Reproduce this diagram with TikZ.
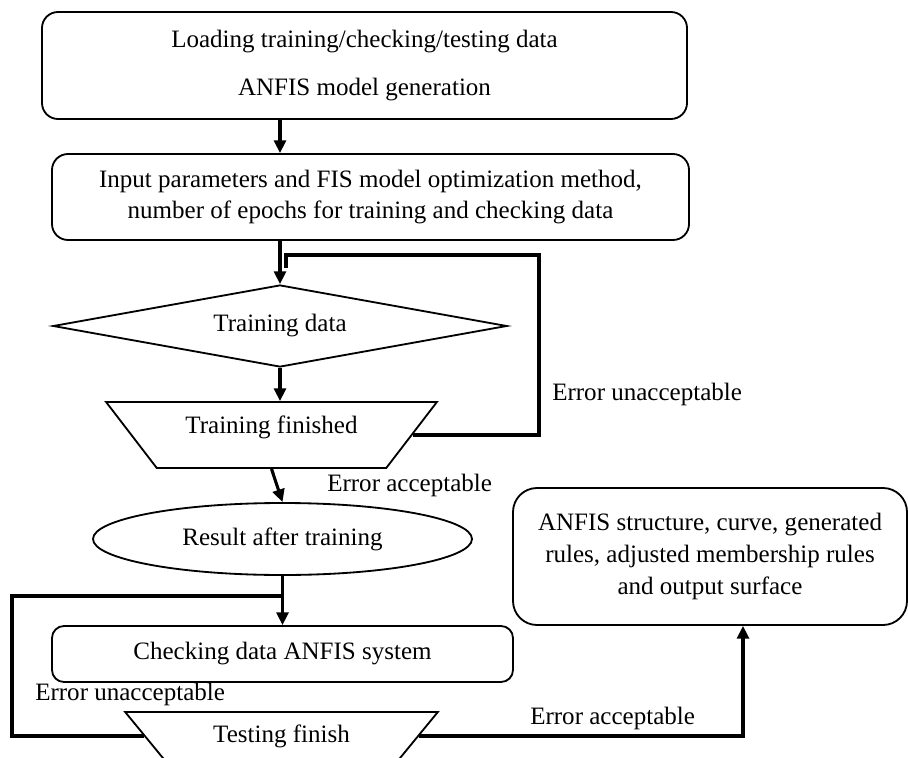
\documentclass[tikz,border=0pt]{standalone}
\usepackage{fontspec}
\setmainfont{Liberation Serif}
\usetikzlibrary{shapes.geometric, arrows.meta}

\begin{document}
\begin{tikzpicture}[
    font=\fontsize{17.8}{22.5}\selectfont,
    box/.style={draw, line width=1.3pt, rounded corners=0.4cm, align=center, inner sep=0pt},
    shp/.style={draw, line width=1.3pt, inner sep=0pt},
    trap/.style={shp, trapezium, trapezium angle=45, trapezium stretches, shape border rotate=180},
    flow/.style={line width=2.2pt},
    arr/.style={flow, -{Triangle[length=0.32cm, width=0.3cm]}},
    tag/.style={anchor=west, inner sep=0pt}
]
    \useasboundingbox (0, 0) rectangle (22.7, 18.925);
    % process boxes
    \node[box, minimum width=16.125cm, minimum height=2.675cm] (load) at (9.1125, 17.2875)
        {Loading training/checking/testing data\\[11pt] ANFIS model generation};
    \node[box, minimum width=15.925cm, minimum height=2.15cm] (input) at (9.2625, 14.0)
        {Input parameters and FIS model optimization method,\\ number of epochs for training and checking data};
    % training part
    \node[shp, diamond, aspect=5.54, minimum width=11.35cm, minimum height=2.05cm] (train) at (7.0, 10.775)
        {Training data};
    \node[trap, text depth=0.51cm, minimum width=8.275cm, minimum height=1.65cm] (trdone) at (6.7875, 8.05)
        {Training finished};
    \node[shp, ellipse, minimum width=9.475cm, minimum height=1.8cm] (result) at (7.0625, 5.45) {Result after training};
    % checking and testing part
    \node[box, rounded corners=0.3cm, minimum width=11.525cm, minimum height=1.4cm] (check) at (7.0625, 2.575)
        {Checking data ANFIS system};
    \node[trap, minimum width=7.825cm, minimum height=1.2cm] (testdone) at (7.0375, 0.525) {Testing finish};
    \node[box, rounded corners=0.6cm, minimum width=9.85cm, minimum height=3.425cm] (output) at (17.75, 5.0125)
        {ANFIS structure, curve, generated\\ rules, adjusted membership rules\\ and output surface};
    % error labels
    \node[tag] (unacc1) at (13.8, 9.075) {Error unacceptable};
    \node[tag] (acc1) at (8.175, 6.8) {Error acceptable};
    \node[tag] (unacc2) at (0.875, 1.575) {Error unacceptable};
    \node[tag] (acc2) at (13.25, 0.975) {Error acceptable};
    % loop corners
    \coordinate (loopR) at (13.475, 12.55);
    \coordinate (loopL) at (0.3, 4.025);
    % draw connectors
    \draw[arr] (train.north |- load.south) -- (train.north |- input.north);
    \draw[arr] (input.south -| train.north) -- (train.north);
    \draw[flow] (trdone.east) -| (loopR) -| ([xshift=0.15cm, yshift=0.4cm]train.north);
    \draw[arr] (train.south) -- (train.south |- trdone.north);
    \draw[arr] (trdone.south) -- (result.north);
    \draw[arr] (result.south) -- (check.north);
    \draw[flow] (testdone.west) -| (loopL) -- (loopL -| check.north);
    \draw[arr] (testdone.east) -| ([xshift=0.825cm]output.south);
\end{tikzpicture}
\end{document}
